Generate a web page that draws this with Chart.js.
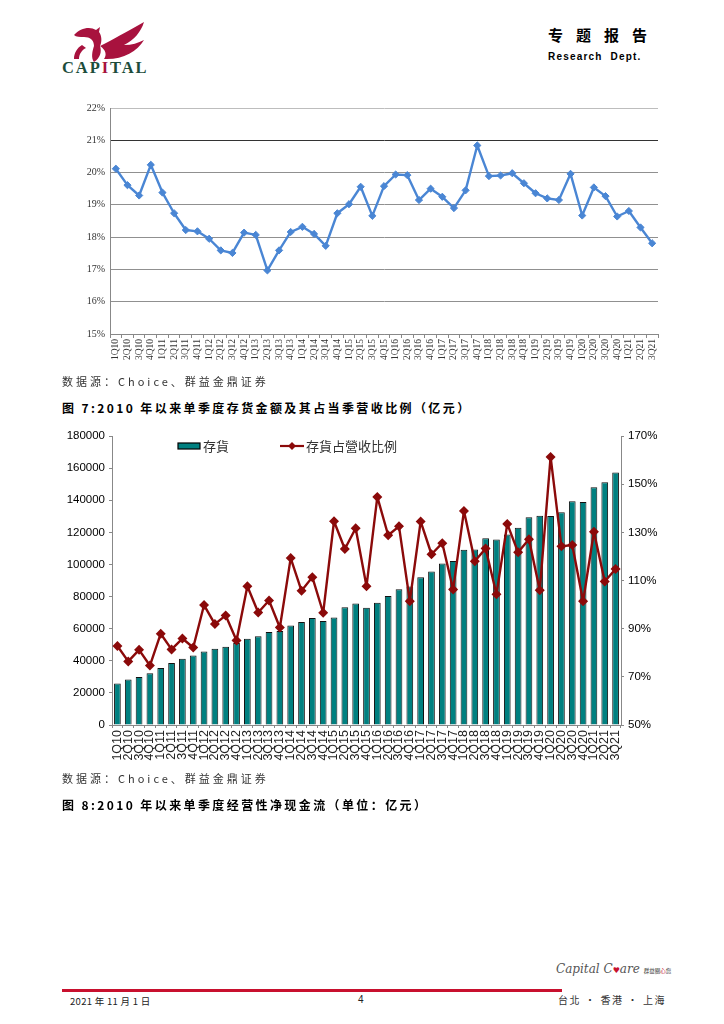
<!DOCTYPE html>
<html>
<head>
<meta charset="utf-8">
<script src="https://cdn.jsdelivr.net/npm/chart.js@4"></script>
<style>
  body { margin:0; background:#fff; width:724px; height:1024px; position:relative; overflow:hidden; font-family:"Noto Sans CJK SC", "Liberation Sans", sans-serif; }
  .abs { position:absolute; }
  .src { font-size:11px; color:#333; letter-spacing:3px; }
  .cap { font-size:12px; font-weight:bold; color:#000; letter-spacing:2.4px; }
</style>
</head>
<body>

<!-- header -->
<svg class="abs" style="left:60px;top:18px" width="95" height="58" viewBox="0 0 95 58">
  <path d="M14 17 C20 10 30 8 36 12 L40 9 L39 14 C42 18 42 24 40 28 L34 28 C34 22 30 19 24 19 C20 19 16 19 14 17 Z" fill="#a8123e"/>
  <path d="M34 28 L40 28 C42 34 40 40 34 44 C31 40 32 34 34 28 Z" fill="#a8123e"/>
  <path d="M22 27 C17 30 14 35 14 41 L19 41 C19 36 22 32 26 30 Z" fill="#a8123e"/>
  <path d="M40 28 C52 22 66 14 84 4 C81 14 74 22 64 27 C72 27 78 25 84 22 C77 34 62 42 44 41 C47 37 46 32 40 28 Z" fill="#a8123e"/>
  <text x="2" y="55" font-family="Liberation Serif" font-weight="bold" font-size="16.5" fill="#1d4d3c" letter-spacing="1.9">CAP<tspan fill="#a8123e">I</tspan>TAL</text>
</svg>
<div class="abs" style="left:548px;top:24px;font-size:15px;font-weight:bold;letter-spacing:13px;">专题报告</div>
<div class="abs" style="left:548px;top:51px;font-family:'Liberation Sans';font-size:10px;font-weight:bold;letter-spacing:1.2px;">Research&nbsp; Dept.</div>

<!-- chart 1 -->
<canvas id="c1" class="abs" style="left:60px;top:95px" width="610" height="280"></canvas>
<div class="abs src" style="left:62px;top:373px;">数据源：Choice、群益金鼎证券</div>
<div class="abs cap" style="left:62px;top:399px;">图 7:2010 年以来单季度存货金额及其占当季营收比例（亿元）</div>

<!-- chart 2 -->
<canvas id="c2" class="abs" style="left:55px;top:425px" width="620" height="355"></canvas>
<div class="abs src" style="left:62px;top:770px;">数据源：Choice、群益金鼎证券</div>
<div class="abs cap" style="left:62px;top:796px;">图 8:2010 年以来单季度经营性净现金流（单位：亿元）</div>

<!-- footer -->
<div class="abs" style="left:62px;top:989px;width:500px;height:3px;background:#c8102e;"></div>
<div class="abs" style="left:70px;top:994px;font-size:9.5px;color:#222;letter-spacing:0.3px;">2021 年 11 月 1 日</div>
<div class="abs" style="left:358px;top:994px;font-family:'Liberation Sans';font-size:10px;color:#222;">4</div>
<div class="abs" style="left:556px;top:962px;font-family:'DejaVu Serif';font-style:italic;font-size:12px;color:#555;">Capital C<span style="color:#c8102e;font-size:8px">♥</span>are <span style="font-family:'Noto Sans CJK TC';font-style:normal;font-size:5.5px;color:#333">群益關<span style="color:#c8102e">心</span>您</span></div>
<div class="abs" style="left:558px;top:992px;font-family:'Noto Sans CJK TC';font-size:10px;color:#333;letter-spacing:1.6px;">台北 · 香港 · 上海</div>

<script>
// quarters 1Q10 .. 3Q21
const quarters = [
  '1Q10','2Q10','3Q10','4Q10','1Q11','2Q11','3Q11','4Q11','1Q12','2Q12','3Q12','4Q12',
  '1Q13','2Q13','3Q13','4Q13','1Q14','2Q14','3Q14','4Q14','1Q15','2Q15','3Q15','4Q15',
  '1Q16','2Q16','3Q16','4Q16','1Q17','2Q17','3Q17','4Q17','1Q18','2Q18','3Q18','4Q18',
  '1Q19','2Q19','3Q19','4Q19','1Q20','2Q20','3Q20','4Q20','1Q21','2Q21','3Q21'
];

// chart 1 : percent series (%)
const topSeries = [
  20.12, 19.61, 19.29, 20.24, 19.38, 18.74, 18.22, 18.18, 17.95, 17.59, 17.51, 18.14,
  18.07, 16.97, 17.59, 18.16, 18.32, 18.10, 17.73, 18.74, 19.02, 19.56, 18.66, 19.58,
  19.94, 19.92, 19.15, 19.50, 19.25, 18.90, 19.45, 20.84, 19.89, 19.91, 19.98, 19.67,
  19.36, 19.20, 19.15, 19.96, 18.67, 19.54, 19.27, 18.64, 18.81, 18.30, 17.81
];
const topTicks = [15, 16, 17, 18, 19, 20, 21, 22];

// chart 2 : inventory (亿元) and inventory / revenue (%)
const inventory = [
  25900, 28400, 29900, 32300, 35500, 38600, 41300, 43300, 45800, 47500, 48700, 51000,
  53700, 55200, 58000, 58500, 62000, 64100, 66600, 64700, 67000, 73400, 75700, 73000,
  76100, 80300, 84600, 86300, 92100, 95600, 100600, 102200, 109100, 109300, 116300, 115500,
  118600, 122800, 129400, 130400, 130200, 132500, 139400, 138900, 148100, 151200, 157200
];
const inventoryRatio = [
  82.8, 76.4, 81.2, 74.7, 87.9, 81.4, 85.9, 82.2, 99.8, 91.9, 95.5, 85.1,
  107.6, 96.7, 101.7, 90.5, 119.3, 105.7, 111.4, 96.6, 134.6, 123.1, 131.7, 107.6,
  144.7, 128.8, 132.5, 101.4, 134.5, 120.9, 125.5, 106.3, 138.9, 118.0, 123.3, 104.3,
  133.5, 121.7, 127.1, 106.0, 161.3, 124.2, 124.7, 101.4, 130.2, 109.6, 114.8
];
const seriesNames = ['存貨', '存貨占營收比例'];

const blue = '#4a86d4';
const teal = '#008080';
const darkRed = '#8b0a0a';

new Chart(document.getElementById('c1'), {
  type: 'line',
  data: {
    labels: quarters,
    datasets: [{
      data: topSeries,
      borderColor: blue,
      backgroundColor: blue,
      borderWidth: 2.4,
      borderJoinStyle: 'round',
      pointStyle: 'rectRot',
      pointRadius: 3.6,
      pointBorderWidth: 1,
      tension: 0
    }]
  },
  options: {
    responsive: false,
    animation: false,
    layout: { padding: { top: 13, right: 12, bottom: 4, left: 0 } },
    plugins: { legend: { display: false }, tooltip: { enabled: false } },
    scales: {
      x: {
        offset: true,
        grid: { offset: true, drawOnChartArea: false, tickLength: 4, color: '#888' },
        border: { color: '#888' },
        ticks: { autoSkip: false, maxRotation: 90, minRotation: 90, padding: 1,
                 color: '#333', font: { family: 'Liberation Serif', size: 9.5 } },
        afterFit: s => { s.height = 37; }
      },
      y: {
        min: topTicks[0],
        max: topTicks[topTicks.length - 1],
        afterBuildTicks: s => { s.ticks = topTicks.map(v => ({ value: v })); },
        ticks: { callback: v => v + '%', padding: 5, color: '#333',
                 font: { family: 'Liberation Serif', size: 10 } },
        grid: {
          drawTicks: false,
          color: c => c.tick.value === 21 ? '#333' : (c.tick.value === 22 ? '#bdbdbd' : '#909090')
        },
        border: { color: '#888' },
        afterFit: s => { s.width = 50; }
      }
    }
  }
});

// legend sitting inside the plot, like the original (bar item, then line item)
const innerLegend = {
  id: 'innerLegend',
  afterDraw(chart) {
    const ctx = chart.ctx;
    const area = chart.chartArea;
    const y = area.top + 10;
    const bar = chart.data.datasets[1];
    const line = chart.data.datasets[0];
    ctx.save();
    ctx.font = '13px "Noto Sans CJK TC"';
    ctx.textBaseline = 'middle';

    let x = area.left + 66;
    ctx.fillStyle = bar.backgroundColor;
    ctx.fillRect(x, y - 3, 22, 6);
    ctx.strokeStyle = '#000';
    ctx.lineWidth = 1.2;
    ctx.strokeRect(x, y - 3, 22, 6);
    ctx.fillStyle = '#333';
    ctx.fillText(bar.label, x + 25, y);

    x = area.left + 168;
    ctx.strokeStyle = line.borderColor;
    ctx.lineWidth = 2.2;
    ctx.beginPath(); ctx.moveTo(x, y); ctx.lineTo(x + 24, y); ctx.stroke();
    ctx.fillStyle = line.borderColor;
    ctx.beginPath();
    ctx.moveTo(x + 12, y - 4); ctx.lineTo(x + 16, y); ctx.lineTo(x + 12, y + 4); ctx.lineTo(x + 8, y);
    ctx.closePath(); ctx.fill();
    ctx.fillStyle = '#333';
    ctx.fillText(line.label, x + 26, y);
    ctx.restore();
  }
};

new Chart(document.getElementById('c2'), {
  type: 'bar',
  data: {
    labels: quarters,
    datasets: [{
      type: 'line',
      label: seriesNames[1],
      data: inventoryRatio,
      yAxisID: 'y2',
      borderColor: darkRed,
      backgroundColor: darkRed,
      borderWidth: 2.4,
      borderJoinStyle: 'round',
      pointStyle: 'rectRot',
      pointRadius: 3.3,
      tension: 0
    }, {
      label: seriesNames[0],
      data: inventory,
      yAxisID: 'y',
      backgroundColor: teal,
      borderColor: '#111',
      borderWidth: 1,
      barPercentage: 0.62,
      categoryPercentage: 1
    }]
  },
  options: {
    responsive: false,
    animation: false,
    layout: { padding: { top: 11, right: 0, bottom: 4, left: 0 } },
    plugins: {
      tooltip: { enabled: false },
      legend: { display: false }
    },
    scales: {
      x: {
        grid: { offset: true, drawOnChartArea: false, tickLength: 3, color: '#888' },
        border: { color: '#888' },
        ticks: { autoSkip: false, maxRotation: 90, minRotation: 90, padding: 2,
                 color: '#222', font: { family: 'Liberation Sans', size: 12.5 } },
        afterFit: s => { s.height = 51; }
      },
      y: {
        position: 'left',
        min: 0, max: 180000,
        ticks: { stepSize: 20000, padding: 4, color: '#000', callback: v => String(v),
                 font: { family: 'Liberation Sans', size: 11.5 } },
        grid: { drawOnChartArea: false, tickLength: 3, color: '#888' },
        border: { color: '#888' },
        afterFit: s => { s.width = 57; }
      },
      y2: {
        position: 'right',
        min: 50, max: 170,
        ticks: { stepSize: 20, padding: 4, color: '#000', callback: v => v + '%',
                 font: { family: 'Liberation Sans', size: 11.5 } },
        grid: { drawOnChartArea: false, tickLength: 3, color: '#888' },
        border: { color: '#888' },
        afterFit: s => { s.width = 54; }
      }
    }
  },
  plugins: [innerLegend]
});
</script>
</body>
</html>
